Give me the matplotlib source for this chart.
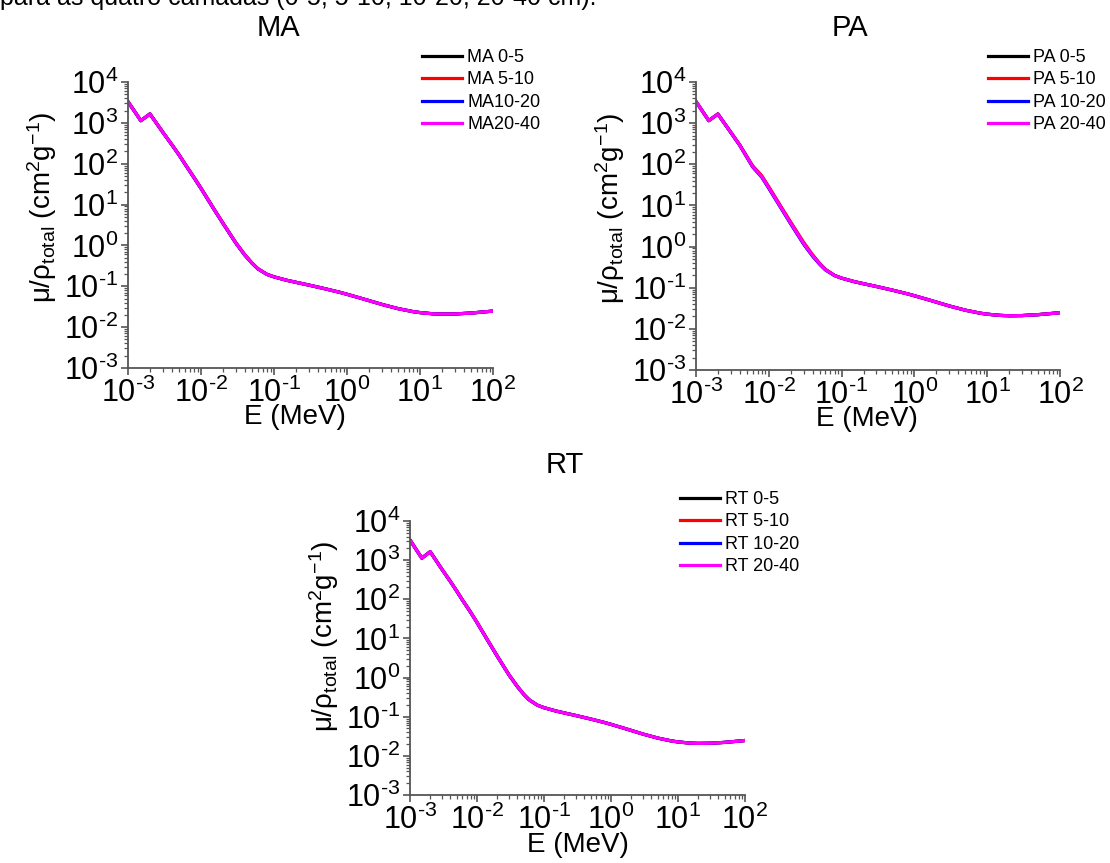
import numpy as np
import matplotlib
matplotlib.use("Agg")
import matplotlib.pyplot as plt
from matplotlib.ticker import LogLocator, FuncFormatter, NullFormatter

plt.rcParams['font.family'] = ['Liberation Sans', 'DejaVu Sans']
plt.rcParams['mathtext.fontset'] = 'custom'
plt.rcParams['mathtext.rm'] = 'Liberation Sans'
plt.rcParams['mathtext.it'] = 'Liberation Sans'
plt.rcParams['mathtext.default'] = 'regular'

# Energy grid (MeV)
E = [1e-3, 1.5e-3, 2e-3, 3e-3, 4e-3, 5e-3, 6e-3, 8e-3, 0.01, 0.015, 0.02,
     0.03, 0.04, 0.05, 0.06, 0.08, 0.1, 0.15, 0.2, 0.3, 0.5, 0.8, 1, 1.5,
     2, 3, 5, 8, 10, 15, 20, 30, 50, 80, 100]

# mass attenuation (cm2/g)
MA_0_5 = [3300, 1130, 1650, 590, 290, 165, 100, 46, 25, 7.8, 3.5,
          1.15, 0.58, 0.37, 0.27, 0.196, 0.170, 0.140, 0.125, 0.107, 0.087, 0.071, 0.0637, 0.0518,
          0.0446, 0.0360, 0.0284, 0.0240, 0.0227, 0.0212, 0.0208, 0.0210, 0.0221, 0.0238, 0.0247]
MA_5_10 = [3310, 1135, 1655, 595, 292, 166, 101, 47, 25.5, 7.9, 3.55,
           1.17, 0.59, 0.37, 0.27, 0.197, 0.170, 0.140, 0.125, 0.107, 0.087, 0.071, 0.0637, 0.0518,
           0.0446, 0.0360, 0.0284, 0.0240, 0.0227, 0.0212, 0.0208, 0.0210, 0.0221, 0.0238, 0.0247]
MA_10_20 = [3290, 1125, 1645, 585, 288, 164, 99, 45.5, 24.7, 7.7, 3.45,
            1.14, 0.57, 0.365, 0.268, 0.195, 0.170, 0.140, 0.125, 0.107, 0.087, 0.071, 0.0637, 0.0518,
            0.0446, 0.0360, 0.0284, 0.0240, 0.0227, 0.0212, 0.0208, 0.0210, 0.0221, 0.0238, 0.0247]
MA_20_40 = [3300, 1130, 1650, 590, 290, 165, 100, 46, 25, 7.8, 3.5,
            1.15, 0.58, 0.37, 0.27, 0.196, 0.170, 0.140, 0.125, 0.107, 0.087, 0.071, 0.0637, 0.0518,
            0.0446, 0.0360, 0.0284, 0.0240, 0.0227, 0.0212, 0.0208, 0.0210, 0.0221, 0.0238, 0.0247]

PA_0_5 = [3350, 1150, 1660, 600, 290, 150, 88, 50, 27, 8.4, 3.7,
          1.2, 0.6, 0.38, 0.275, 0.198, 0.171, 0.140, 0.125, 0.107, 0.087, 0.071, 0.0637, 0.0518,
          0.0446, 0.0360, 0.0284, 0.0240, 0.0227, 0.0212, 0.0208, 0.0210, 0.0221, 0.0238, 0.0247]
PA_5_10 = [3360, 1155, 1670, 605, 295, 155, 92, 53, 28.5, 8.9, 3.95,
           1.28, 0.63, 0.39, 0.28, 0.199, 0.171, 0.140, 0.125, 0.107, 0.087, 0.071, 0.0637, 0.0518,
           0.0446, 0.0360, 0.0284, 0.0240, 0.0227, 0.0212, 0.0208, 0.0210, 0.0221, 0.0238, 0.0247]
PA_10_20 = [3340, 1145, 1655, 595, 287, 148, 86, 48.5, 26, 8.1, 3.55,
            1.15, 0.58, 0.37, 0.27, 0.197, 0.170, 0.140, 0.125, 0.107, 0.087, 0.071, 0.0637, 0.0518,
            0.0446, 0.0360, 0.0284, 0.0240, 0.0227, 0.0212, 0.0208, 0.0210, 0.0221, 0.0238, 0.0247]
PA_20_40 = [3350, 1150, 1660, 600, 290, 150, 88, 50, 27, 8.4, 3.7,
            1.2, 0.6, 0.38, 0.275, 0.198, 0.171, 0.140, 0.125, 0.107, 0.087, 0.071, 0.0637, 0.0518,
            0.0446, 0.0360, 0.0284, 0.0240, 0.0227, 0.0212, 0.0208, 0.0210, 0.0221, 0.0238, 0.0247]

RT_0_5 = [3250, 1120, 1640, 580, 285, 160, 98, 47, 25.5, 8.0, 3.55,
          1.17, 0.59, 0.37, 0.27, 0.196, 0.170, 0.140, 0.125, 0.107, 0.087, 0.071, 0.0637, 0.0518,
          0.0446, 0.0360, 0.0284, 0.0240, 0.0227, 0.0212, 0.0208, 0.0210, 0.0221, 0.0238, 0.0247]
RT_5_10 = [3260, 1125, 1645, 585, 287, 162, 99, 47.5, 25.8, 8.1, 3.6,
           1.18, 0.595, 0.372, 0.27, 0.196, 0.170, 0.140, 0.125, 0.107, 0.087, 0.071, 0.0637, 0.0518,
           0.0446, 0.0360, 0.0284, 0.0240, 0.0227, 0.0212, 0.0208, 0.0210, 0.0221, 0.0238, 0.0247]
RT_10_20 = [3245, 1118, 1638, 578, 284, 159, 97, 46.5, 25.2, 7.9, 3.5,
            1.16, 0.585, 0.368, 0.27, 0.196, 0.170, 0.140, 0.125, 0.107, 0.087, 0.071, 0.0637, 0.0518,
            0.0446, 0.0360, 0.0284, 0.0240, 0.0227, 0.0212, 0.0208, 0.0210, 0.0221, 0.0238, 0.0247]
RT_20_40 = [3250, 1120, 1640, 580, 285, 160, 98, 47, 25.5, 8.0, 3.55,
            1.17, 0.59, 0.37, 0.27, 0.196, 0.170, 0.140, 0.125, 0.107, 0.087, 0.071, 0.0637, 0.0518,
            0.0446, 0.0360, 0.0284, 0.0240, 0.0227, 0.0212, 0.0208, 0.0210, 0.0221, 0.0238, 0.0247]

colors = ['black', 'red', 'blue', 'magenta']
fs = 20
fs_tick = 22

fig = plt.figure(figsize=(11.1, 8.63), dpi=100, facecolor='w')

# cut-off caption line at the very top
fig.text(0.0, 1.002, "para as quatro camadas (0-5, 5-10, 10-20, 20-40 cm).",
         fontsize=18, va='center', ha='left')


def decade(v, pos):
    n = int(round(np.log10(v)))
    if n < 0:
        return r'$10^{\text{-}%d}$' % (-n)
    return r'$10^{%d}$' % n


def panel(rect, series, labels, title_xy, leg_xy, ylab_xy, xlab_xy):
    ax = fig.add_axes(rect)
    for y, lab, c in zip(series, labels, colors):
        ax.plot(E, y, color=c, lw=2.3, label=lab)
    ax.set_xscale('log')
    ax.set_yscale('log')
    ax.set_xlim(1e-3, 100)
    ax.set_ylim(1e-3, 1e4)
    for s in ['top', 'right']:
        ax.spines[s].set_visible(False)
    for s in ['left', 'bottom']:
        ax.spines[s].set_color('#555555')
        ax.spines[s].set_linewidth(1.3)
    for axis in (ax.xaxis, ax.yaxis):
        axis.set_major_locator(LogLocator(base=10, numticks=20))
        axis.set_minor_locator(LogLocator(base=10, subs=np.arange(2, 10), numticks=20))
        axis.set_major_formatter(FuncFormatter(decade))
        axis.set_minor_formatter(NullFormatter())
    ax.tick_params(which='major', direction='out', length=5, width=1.2,
                   color='#555555', labelsize=fs_tick, pad=2)
    ax.tick_params(which='minor', direction='out', length=3, width=0.9,
                   color='#555555')
    ax.set_xlabel('E (MeV)', fontsize=fs)
    ax.set_ylabel(r'μ/ρ$_{total}$ (cm$^{2}$g$^{-1}$)', fontsize=fs)
    ax.yaxis.set_label_coords(*ylab_xy)
    ax.xaxis.set_label_coords(*xlab_xy)
    fig.text(title_xy[0], title_xy[1], labels[0][:2], fontsize=21,
             ha='center', va='center')
    ax.legend(loc='upper left', bbox_to_anchor=leg_xy, bbox_transform=fig.transFigure,
              frameon=False, fontsize=13, handlelength=2.2, handletextpad=0.3,
              labelspacing=0.3, borderpad=0, borderaxespad=0)
    return ax


panel([0.1153, 0.5736, 0.3288, 0.3314],
      [MA_0_5, MA_5_10, MA_10_20, MA_20_40],
      ['MA 0-5', 'MA 5-10', 'MA10-20', 'MA20-40'],
      (278 / 1110, 1 - 28 / 863), (422 / 1110, 1 - 49 / 863),
      (-0.19, 0.56), (0.457, -0.125))

panel([0.627, 0.5713, 0.328, 0.3337],
      [PA_0_5, PA_5_10, PA_10_20, PA_20_40],
      ['PA 0-5', 'PA 5-10', 'PA 10-20', 'PA 20-40'],
      (850 / 1110, 1 - 28 / 863), (988 / 1110, 1 - 49 / 863),
      (-0.19, 0.56), (0.47, -0.125))

panel([0.3694, 0.0788, 0.3018, 0.3175],
      [RT_0_5, RT_5_10, RT_10_20, RT_20_40],
      ['RT 0-5', 'RT 5-10', 'RT 10-20', 'RT 20-40'],
      (565 / 1110, 1 - 465 / 863), (680 / 1110, 1 - 491 / 863),
      (-0.206, 0.577), (0.5, -0.135))

plt.savefig("out.png", dpi=100, facecolor='w')
